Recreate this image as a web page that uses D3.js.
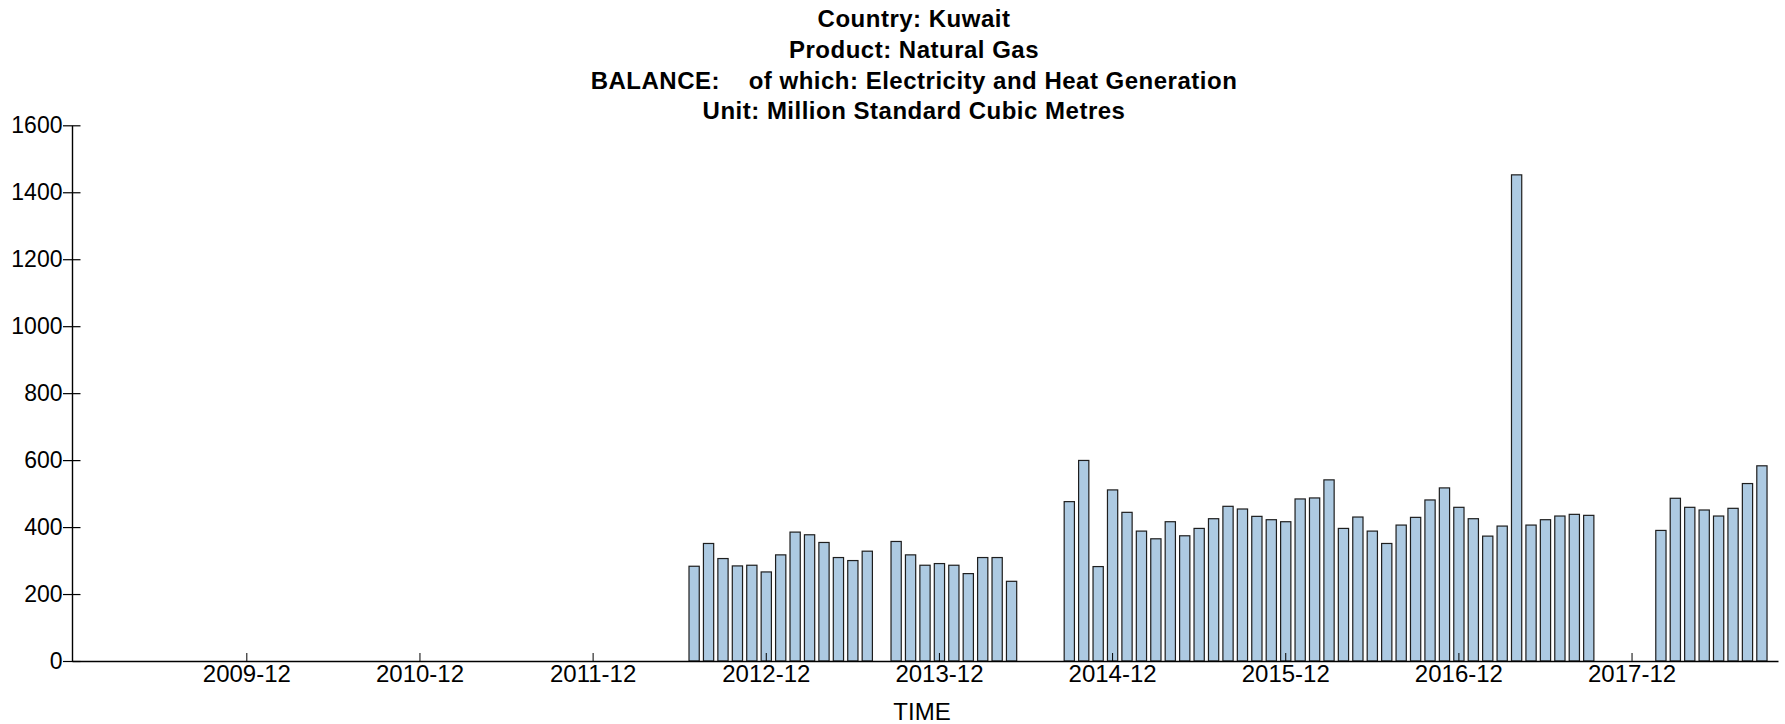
<!DOCTYPE html>
<html>
<head>
<meta charset="utf-8">
<script src="https://cdn.jsdelivr.net/npm/d3@7"></script>
<style>
  body { margin: 0; background: #fff; }
  svg { display: block; font-family: "Liberation Sans", Arial, sans-serif; }
</style>
</head>
<body>
<svg id="chart" width="1785" height="724"></svg>
<script>
// chart data (million standard cubic metres, monthly)
const titleLines = [
  "Country: Kuwait",
  "Product: Natural Gas",
  "BALANCE:    of which: Electricity and Heat Generation",
  "Unit: Million Standard Cubic Metres"
];
const firstMonth = "2009-01";
const lastMonth = "2018-09";
const valuesStart = "2012-07";
// one value per month starting at valuesStart, null = no data
const values = [
  283, 351, 306, 284, 286, 266,
  317, 385, 377, 354, 309, 300, 328, null, 357, 317, 286, 291,
  286, 261, 309, 309, 238, null, null, null, 476, 599, 282, 511,
  444, 388, 365, 416, 374, 396, 425, 462, 454, 432, 422, 416,
  484, 487, 541, 396, 430, 388, 351, 406, 429, 481, 517, 459,
  425, 373, 403, 1452, 406, 422, 433, 438, 435, null, null, null,
  null, 390, 486, 459, 451, 433, 456, 530, 583
];
const xTickLabels = ["2009-12", "2010-12", "2011-12", "2012-12", "2013-12",
  "2014-12", "2015-12", "2016-12", "2017-12"];
const yTicks = [0, 200, 400, 600, 800, 1000, 1200, 1400, 1600];
const xLabel = "TIME";

const fmt = d3.timeFormat("%Y-%m");
const parse = d3.timeParse("%Y-%m");

// all months on the axis
const months = d3.timeMonth.range(parse(firstMonth), d3.timeMonth.offset(parse(lastMonth), 1)).map(fmt);
const start = months.indexOf(valuesStart);
const data = values
  .map((v, i) => ({ month: months[start + i], value: v }))
  .filter(d => d.value != null);

const svg = d3.select("#chart");

const x = d3.scaleBand()
  .domain(months)
  .range([72, 1778])
  .paddingInner(0.29)
  .paddingOuter(0.76);

const y = d3.scaleLinear()
  .domain([0, 1600])
  .range([661, 125.3]);

// title
svg.append("g")
  .selectAll("text")
  .data(titleLines)
  .join("text")
  .attr("x", 914)
  .attr("y", (d, i) => 27 + i * 30.8)
  .attr("text-anchor", "middle")
  .style("white-space", "pre")
  .attr("font-size", 24)
  .attr("font-weight", "bold")
  .attr("letter-spacing", 0.5)
  .text(d => d);

// bars
svg.append("g")
  .selectAll("rect")
  .data(data)
  .join("rect")
  .attr("x", d => x(d.month))
  .attr("y", d => y(d.value))
  .attr("width", x.bandwidth())
  .attr("height", d => y(0) - y(d.value))
  .attr("fill", "#adcae2")
  .attr("stroke", "#1e1e1e")
  .attr("stroke-width", 1.2);

// x axis, ticks pointing up
const xAxis = svg.append("g")
  .attr("transform", `translate(0, ${y(0)})`)
  .call(d3.axisBottom(x)
    .tickValues(xTickLabels)
    .tickSizeInner(-8)
    .tickSizeOuter(0)
    .tickPadding(4));
xAxis.attr("font-size", 24).attr("font-family", null);
xAxis.select(".domain").attr("stroke", "#000").attr("stroke-width", 1.4);
xAxis.selectAll(".tick line").attr("stroke", "#000");
xAxis.selectAll(".tick text").attr("fill", "#000");

// y axis, ticks cross the line
const yAxis = svg.append("g")
  .attr("transform", "translate(72, 0)")
  .call(d3.axisLeft(y)
    .tickValues(yTicks)
    .tickFormat(d3.format("d"))
    .tickSizeInner(9)
    .tickSizeOuter(0)
    .tickPadding(0.5));
yAxis.attr("font-size", 23).attr("font-family", null);
yAxis.select(".domain").attr("stroke", "#000").attr("stroke-width", 1.4);
yAxis.selectAll(".tick line").attr("x1", 8.5).attr("stroke", "#000").attr("stroke-width", 1.2);
yAxis.selectAll(".tick text").attr("fill", "#000");

// axis title
svg.append("text")
  .attr("x", 922)
  .attr("y", 720)
  .attr("text-anchor", "middle")
  .attr("font-size", 24)
  .text(xLabel);
</script>
</body>
</html>
